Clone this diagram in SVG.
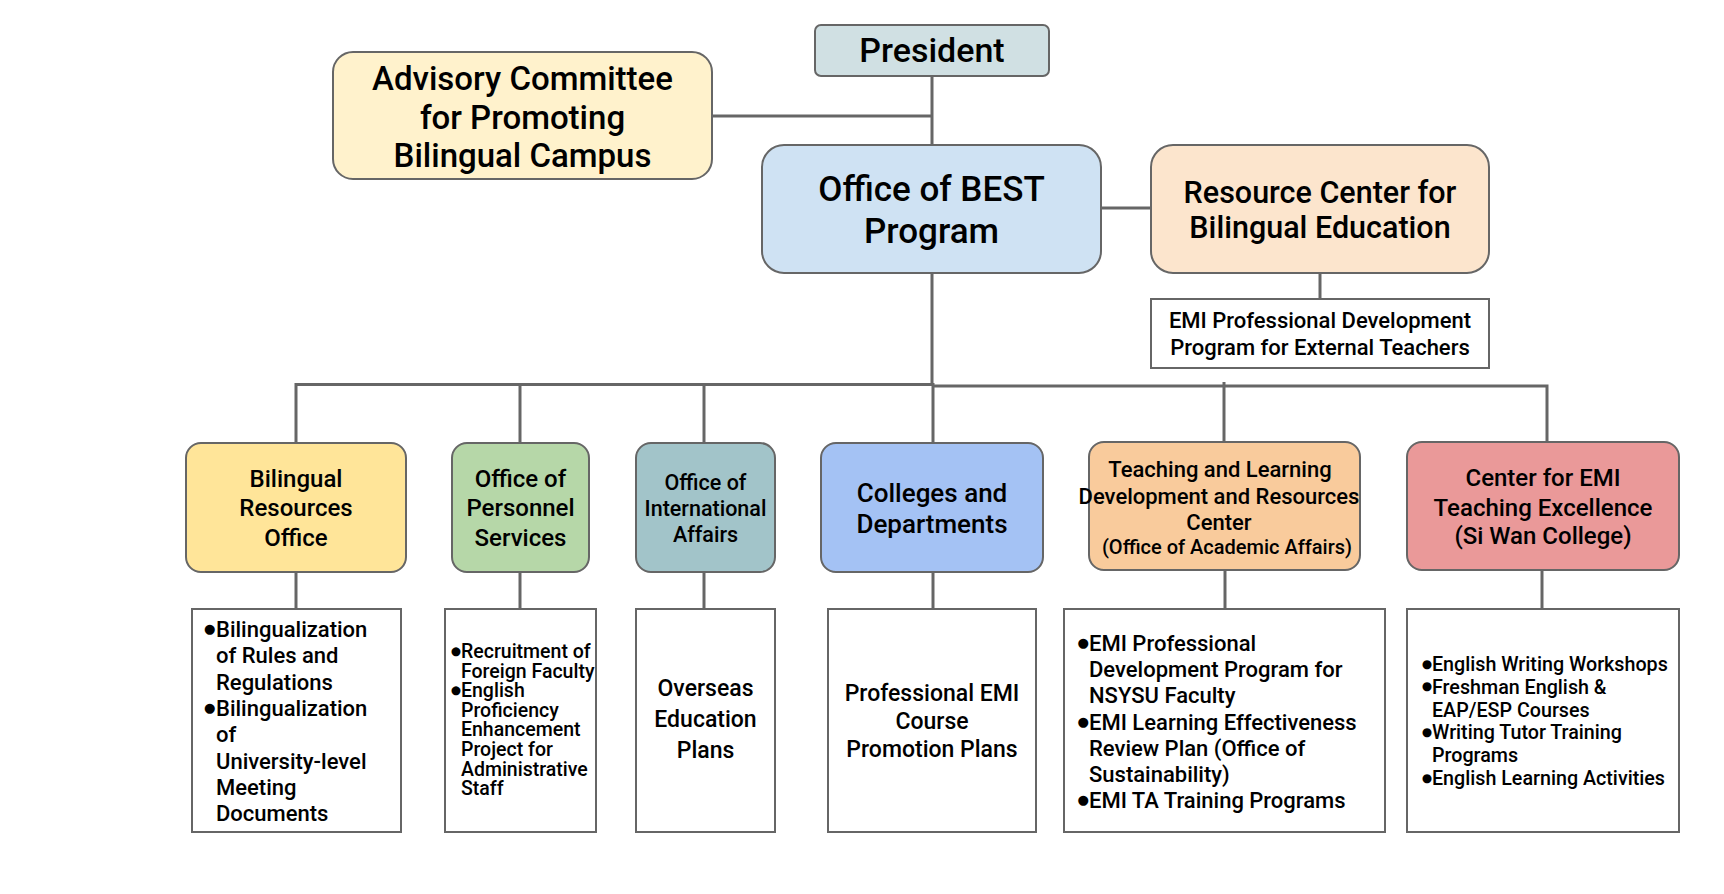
<svg xmlns="http://www.w3.org/2000/svg" width="1724" height="894" viewBox="0 0 1724 894">
<style>
text{font-family:Roboto,"Liberation Sans",sans-serif;font-weight:500;fill:#000;}
.c{text-anchor:middle;}
.box{stroke:#666;stroke-width:2;}
.tb{fill:#fff;stroke:#666;stroke-width:2;}
.ln{stroke:#666;stroke-width:3;fill:none;}
.b{font-family:"DejaVu Sans",sans-serif;font-size:0.6em;text-anchor:end;}
</style>
<rect width="1724" height="894" fill="#fff"/>
<g id="connectors">
<path class="ln" d="M932 76V384"/>
<path class="ln" d="M712 116H932"/>
<path class="ln" d="M1101 208H1151"/>
<path class="ln" d="M1320 273V299"/>
<path class="ln" d="M296 443V384.5H933V443"/>
<path class="ln" d="M933 386H1547V445"/>
<path class="ln" d="M520 384.5V443"/>
<path class="ln" d="M704 384.5V443"/>
<path class="ln" d="M1224 382V442"/>
<path class="ln" d="M296 572V609"/>
<path class="ln" d="M520 572V609"/>
<path class="ln" d="M704 572V609"/>
<path class="ln" d="M933 572V609"/>
<path class="ln" d="M1225 570V609"/>
<path class="ln" d="M1542 570V609"/>
</g>
<g id="president">
<rect class="box" x="815" y="25" width="234" height="51" rx="6" fill="#d0e0e3"/>
<text class="c" x="932" y="62" font-size="34">President</text>
</g>
<g id="advisory">
<rect class="box" x="333" y="52" width="379" height="127" rx="20" fill="#fff2cc"/>
<text class="c" font-size="33"><tspan x="522.5" y="90">Advisory Committee</tspan><tspan x="522.5" y="129">for Promoting</tspan><tspan x="522.5" y="167">Bilingual Campus</tspan></text>
</g>
<g id="best">
<rect class="box" x="762" y="145" width="339" height="128" rx="22" fill="#cfe2f3"/>
<text class="c" font-size="35"><tspan x="931.5" y="200.5">Office of BEST</tspan><tspan x="931.5" y="242.5">Program</tspan></text>
</g>
<g id="resource">
<rect class="box" x="1151" y="145" width="338" height="128" rx="22" fill="#fce5cd"/>
<text class="c" font-size="30.5"><tspan x="1320" y="203">Resource Center for</tspan><tspan x="1320" y="238">Bilingual Education</tspan></text>
</g>
<g id="emi-external">
<rect class="tb" x="1151" y="299" width="338" height="69"/>
<text class="c" font-size="22"><tspan x="1320" y="328">EMI Professional Development</tspan><tspan x="1320" y="355">Program for External Teachers</tspan></text>
</g>
<g id="bilingual-office">
<rect class="box" x="186" y="443" width="220" height="129" rx="15" fill="#ffe599"/>
<text class="c" font-size="24"><tspan x="296" y="486.5">Bilingual</tspan><tspan x="296" y="516">Resources</tspan><tspan x="296" y="545.5">Office</tspan></text>
</g>
<g id="personnel">
<rect class="box" x="452" y="443" width="137" height="129" rx="15" fill="#b6d7a8"/>
<text class="c" font-size="24"><tspan x="520.5" y="486.5">Office of</tspan><tspan x="520.5" y="516">Personnel</tspan><tspan x="520.5" y="545.5">Services</tspan></text>
</g>
<g id="international">
<rect class="box" x="636" y="443" width="139" height="129" rx="15" fill="#a2c4c9"/>
<text class="c" font-size="21.5"><tspan x="705.5" y="489.5">Office of</tspan><tspan x="705.5" y="515.5">International</tspan><tspan x="705.5" y="541.5">Affairs</tspan></text>
</g>
<g id="colleges">
<rect class="box" x="821" y="443" width="222" height="129" rx="15" fill="#a4c2f4"/>
<text class="c" font-size="26"><tspan x="932" y="502">Colleges and</tspan><tspan x="932" y="533">Departments</tspan></text>
</g>
<g id="teaching">
<rect class="box" x="1089" y="442" width="271" height="128" rx="15" fill="#f9cb9c"/>
<text class="c" font-size="22"><tspan x="1220" y="477">Teaching and Learning</tspan><tspan x="1219" y="504">Development and Resources</tspan><tspan x="1219" y="530">Center</tspan><tspan x="1227" y="553.5" font-size="20">(Office of Academic Affairs)</tspan></text>
</g>
<g id="center-emi">
<rect class="box" x="1407" y="442" width="272" height="128" rx="15" fill="#ea9999"/>
<text class="c" font-size="24"><tspan x="1543" y="485.5">Center for EMI</tspan><tspan x="1543" y="515.5">Teaching Excellence</tspan><tspan x="1543" y="543.5">(Si Wan College)</tspan></text>
</g>
<g id="bilingual-tasks">
<rect class="tb" x="192" y="609" width="209" height="223"/>
<text font-size="22">
<tspan class="b" x="215.5" y="633">●</tspan><tspan x="216" y="637">Bilingualization</tspan>
<tspan x="216" y="663.3">of Rules and</tspan>
<tspan x="216" y="689.6">Regulations</tspan>
<tspan class="b" x="215.5" y="711.9">●</tspan><tspan x="216" y="715.9">Bilingualization</tspan>
<tspan x="216" y="742.2">of</tspan>
<tspan x="216" y="768.5">University-level</tspan>
<tspan x="216" y="794.8">Meeting</tspan>
<tspan x="216" y="821.1">Documents</tspan>
</text>
</g>
<g id="personnel-tasks">
<rect class="tb" x="445" y="609" width="151" height="223"/>
<text font-size="19.5">
<tspan class="b" x="461" y="654.5">●</tspan><tspan x="461" y="658">Recruitment of</tspan>
<tspan x="461" y="677.6">Foreign Faculty</tspan>
<tspan class="b" x="461" y="693.7">●</tspan><tspan x="461" y="697.2">English</tspan>
<tspan x="461" y="716.8">Proficiency</tspan>
<tspan x="461" y="736.4">Enhancement</tspan>
<tspan x="461" y="756">Project for</tspan>
<tspan x="461" y="775.6">Administrative</tspan>
<tspan x="461" y="795.2">Staff</tspan>
</text>
</g>
<g id="international-tasks">
<rect class="tb" x="636" y="609" width="139" height="223"/>
<text class="c" font-size="23"><tspan x="705.5" y="696">Overseas</tspan><tspan x="705.5" y="727">Education</tspan><tspan x="705.5" y="758">Plans</tspan></text>
</g>
<g id="colleges-tasks">
<rect class="tb" x="828" y="609" width="208" height="223"/>
<text class="c" font-size="23"><tspan x="932" y="701">Professional EMI</tspan><tspan x="932" y="729">Course</tspan><tspan x="932" y="757">Promotion Plans</tspan></text>
</g>
<g id="teaching-tasks">
<rect class="tb" x="1064" y="609" width="321" height="223"/>
<text font-size="22">
<tspan class="b" x="1089" y="647">●</tspan><tspan x="1089" y="651">EMI Professional</tspan>
<tspan x="1089" y="677.2">Development Program for</tspan>
<tspan x="1089" y="703.4">NSYSU Faculty</tspan>
<tspan class="b" x="1089" y="725.6">●</tspan><tspan x="1089" y="729.6">EMI Learning Effectiveness</tspan>
<tspan x="1089" y="755.8">Review Plan (Office of</tspan>
<tspan x="1089" y="782">Sustainability)</tspan>
<tspan class="b" x="1089" y="804.2">●</tspan><tspan x="1089" y="808.2">EMI TA Training Programs</tspan>
</text>
</g>
<g id="center-emi-tasks">
<rect class="tb" x="1407" y="609" width="272" height="223"/>
<text font-size="19.7">
<tspan class="b" x="1432" y="667.5">●</tspan><tspan x="1432" y="671">English Writing Workshops</tspan>
<tspan class="b" x="1432" y="690.3">●</tspan><tspan x="1432" y="693.8">Freshman English &amp;</tspan>
<tspan x="1432" y="716.6">EAP/ESP Courses</tspan>
<tspan class="b" x="1432" y="735.9">●</tspan><tspan x="1432" y="739.4">Writing Tutor Training</tspan>
<tspan x="1432" y="762.2">Programs</tspan>
<tspan class="b" x="1432" y="781.5">●</tspan><tspan x="1432" y="785">English Learning Activities</tspan>
</text>
</g>
</svg>
